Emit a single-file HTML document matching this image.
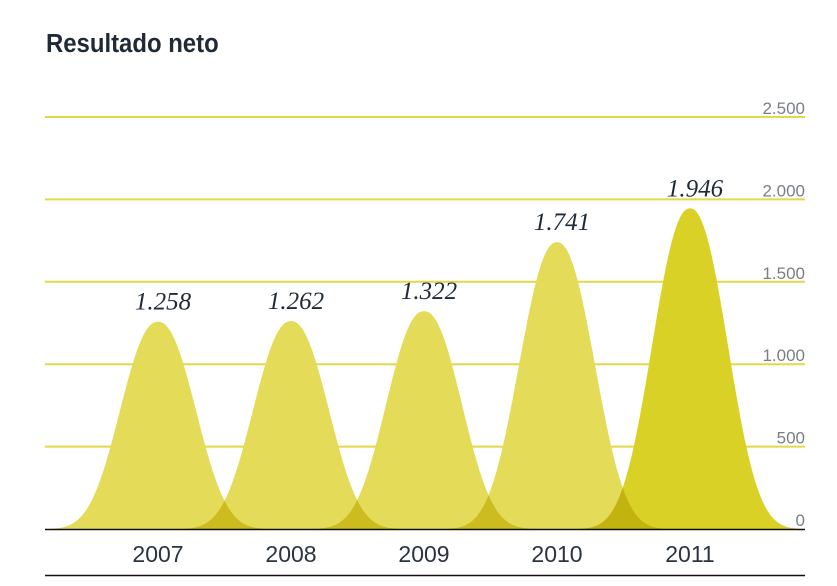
<!DOCTYPE html>
<html><head><meta charset="utf-8"><style>
body{margin:0;background:#fff;width:837px;height:581px;overflow:hidden}
</style></head><body>
<svg id="c" width="837" height="581" style="font-family:'Liberation Sans',sans-serif">
<text x="46" y="52" font-size="26" font-weight="bold" fill="#1f2a36" transform="translate(46 0) scale(0.92 1) translate(-46 0)">Resultado neto</text>
<g id="grid"></g><g id="bells" style="isolation:isolate"></g><g id="labels"></g>
<line x1="45" x2="805" y1="529.5" y2="529.5" stroke="#111" stroke-width="1.5"/>
<line x1="45" x2="805" y1="575.5" y2="575.5" stroke="#111" stroke-width="1.5"/>
</svg>
<script>
const years=['2007','2008','2009','2010','2011'];
const values=[1258,1262,1322,1741,1946];
const valueLabels=['1.258','1.262','1.322','1.741','1.946'];
const ticks=[0,500,1000,1500,2000,2500];
const tickLabels=['0','500','1.000','1.500','2.000','2.500'];
const NS='http://www.w3.org/2000/svg';
const y=v=>529-v*(412/2500);
const x=i=>158+i*133;
function mk(t,a,p){const e=document.createElementNS(NS,t);for(const k in a)e.setAttribute(k,a[k]);p.appendChild(e);return e;}
const grid=document.getElementById('grid'),bells=document.getElementById('bells'),labels=document.getElementById('labels');
ticks.forEach((t,i)=>{
 if(t>0){const l=mk('line',{x1:45,x2:805,y1:y(t),y2:y(t),stroke:'#e2d84a','stroke-width':2},grid);
 
 }
 const tx=mk('text',{x:805,y:y(t)-3,'text-anchor':'end','font-size':17,fill:'#7a7f85'},grid);
 tx.textContent=tickLabels[i];
 
 
});
values.forEach((v,i)=>{
 const cx=x(i),h=529-y(v),s=50,W=114;let d='M'+(cx-W)+' 529';
 for(let dx=-W;dx<=W;dx+=2){const u=Math.abs(dx)/s;const f=Math.exp(-Math.pow(u,2.2))*(1-Math.pow(Math.abs(dx)/W,4));d+=' L'+(cx+dx)+' '+(529-h*f).toFixed(2);}
 d+=' Z';
 const p=mk('path',{d:d,fill:i===4?'#d9d126':'#e4db58',style:'mix-blend-mode:multiply'},bells);
 
 
 const vl=mk('text',{x:cx+5,y:y(v)-12,'text-anchor':'middle','font-size':25,'font-style':'italic','font-family':"'Liberation Serif',serif",fill:'#1f2a36'},labels);
 vl.textContent=valueLabels[i];
 
 
 const yl=mk('text',{x:cx,y:562,'text-anchor':'middle','font-size':23,fill:'#2a3440'},labels);
 yl.textContent=years[i];
 
 
});
</script>
</body></html>
